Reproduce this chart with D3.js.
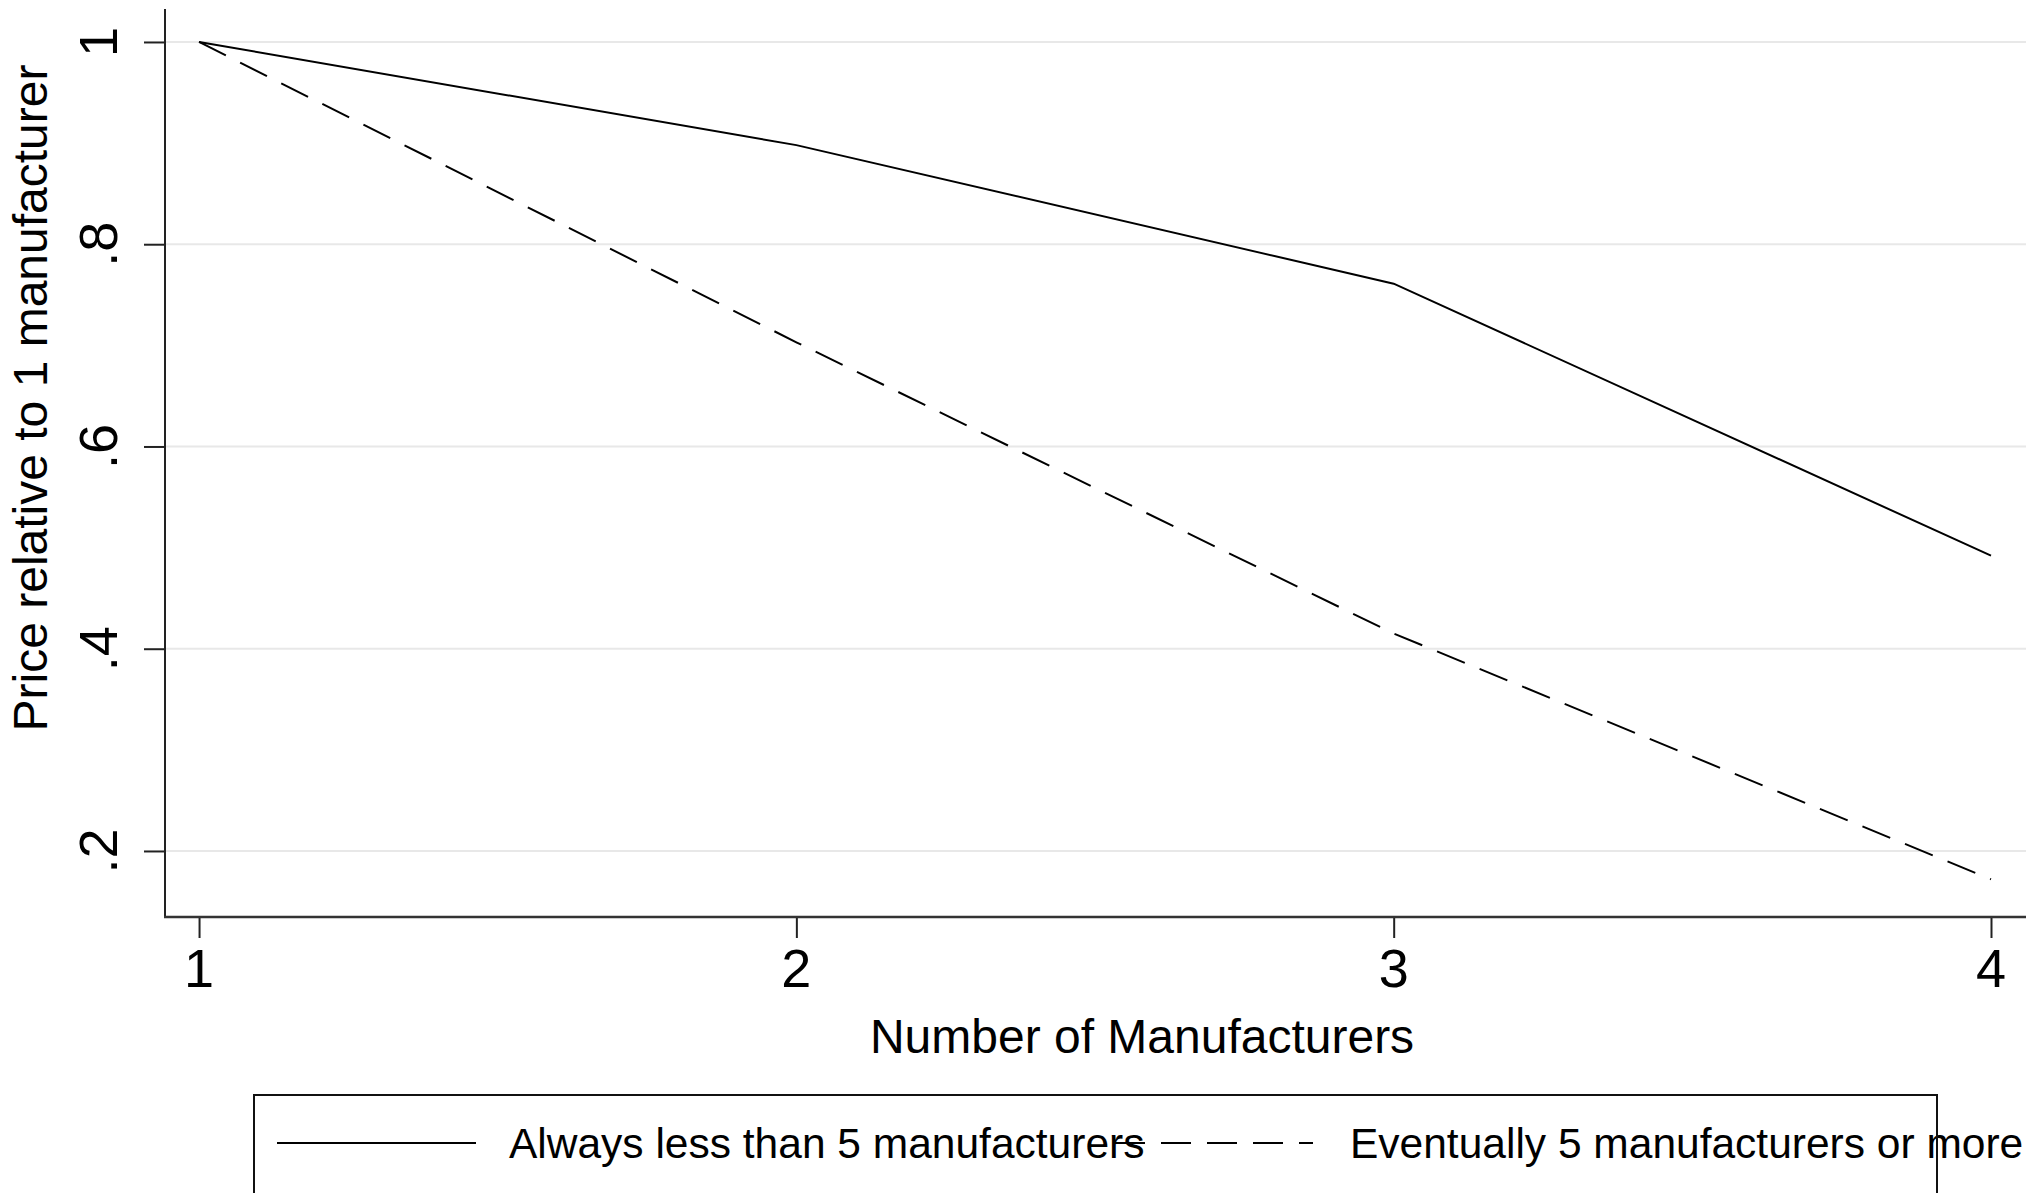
<!DOCTYPE html>
<html>
<head>
<meta charset="utf-8">
<script src="https://cdn.jsdelivr.net/npm/d3@7"></script>
<style>
html, body { margin: 0; padding: 0; background: #fff; }
svg { display: block; }
text { font-family: "Liberation Sans", Arial, sans-serif; fill: #000; }
</style>
</head>
<body>
<script>
// ---- data ----
const manufacturers = [1, 2, 3, 4];
const alwaysLess = [1.0, 0.898, 0.761, 0.492];
const eventuallyMore = [1.0, 0.703, 0.415, 0.172];
const seriesNames = ["Always less than 5 manufacturers", "Eventually 5 manufacturers or more"];
const yTicks = [0.2, 0.4, 0.6, 0.8, 1.0];
const yTickLabels = [".2", ".4", ".6", ".8", "1"];
const xTicks = [1, 2, 3, 4];
const xTitle = "Number of Manufacturers";
const yTitle = "Price relative to 1 manufacturer";

// ---- layout ----
const W = 2042, H = 1193;
const plot = { left: 165, right: 2026, top: 9, bottom: 917 };

const svg = d3.select("body").append("svg").attr("width", W).attr("height", H);

const x = d3.scaleLinear().domain([0.943, 4.0586]).range([plot.left, plot.right]);
const y = d3.scaleLinear().domain([0.1347, 1.0326]).range([plot.bottom, plot.top]);

// gridlines
svg.append("g").selectAll("line").data(yTicks).join("line")
  .attr("x1", plot.left + 1).attr("x2", plot.right)
  .attr("y1", d => y(d)).attr("y2", d => y(d))
  .attr("stroke", "#e8e8e8").attr("stroke-width", 2);

// y axis
const yAxis = d3.axisLeft(y).tickValues(yTicks).tickSize(21).tickPadding(0)
  .tickFormat((d, i) => yTickLabels[i]);
const gy = svg.append("g").attr("transform", `translate(${plot.left},0)`).call(yAxis);
gy.select(".domain").remove();
gy.selectAll(".tick line").attr("stroke", "#222").attr("stroke-width", 2);
gy.selectAll(".tick text").remove();
svg.append("line").attr("x1", plot.left).attr("x2", plot.left)
  .attr("y1", plot.top).attr("y2", plot.bottom + 1).attr("stroke", "#222").attr("stroke-width", 2);
svg.append("g").selectAll("text").data(yTicks).join("text")
  .attr("transform", d => `translate(117,${y(d)}) rotate(-90)`)
  .attr("text-anchor", "middle")
  .style("font-size", "54px")
  .text((d, i) => yTickLabels[i]);

// x axis
const xAxis = d3.axisBottom(x).tickValues(xTicks).tickSize(21).tickFormat(d3.format("d"));
const gx = svg.append("g").attr("transform", `translate(0,${plot.bottom})`).call(xAxis);
gx.select(".domain").remove();
gx.selectAll(".tick line").attr("stroke", "#222").attr("stroke-width", 2);
gx.selectAll(".tick text").remove();
svg.append("line").attr("x1", plot.left - 1).attr("x2", plot.right)
  .attr("y1", plot.bottom).attr("y2", plot.bottom).attr("stroke", "#333").attr("stroke-width", 2.5);
svg.append("g").selectAll("text").data(xTicks).join("text")
  .attr("x", d => x(d)).attr("y", 987)
  .attr("text-anchor", "middle")
  .style("font-size", "54px")
  .text(d => d);

// axis titles
svg.append("text").attr("x", 1142).attr("y", 1053).attr("text-anchor", "middle")
  .style("font-size", "48px").text(xTitle);
svg.append("text").attr("transform", "translate(47,398) rotate(-90)").attr("text-anchor", "middle")
  .style("font-size", "48px").text(yTitle);

// lines
const line = d3.line().x((d, i) => x(manufacturers[i])).y(d => y(d));
svg.append("path").datum(alwaysLess).attr("d", line)
  .attr("fill", "none").attr("stroke", "#000").attr("stroke-width", 2);
svg.append("path").datum(eventuallyMore).attr("d", line)
  .attr("fill", "none").attr("stroke", "#000").attr("stroke-width", 2)
  .attr("stroke-dasharray", "30,16");

// legend
const lg = svg.append("g");
lg.append("rect").attr("x", 254).attr("y", 1095).attr("width", 1937 - 254).attr("height", 200)
  .attr("fill", "#fff").attr("stroke", "#111").attr("stroke-width", 2);
const legendItems = [
  { name: seriesNames[0], x0: 277, x1: 476, tx: 509, dash: null },
  { name: seriesNames[1], x0: 1115, x1: 1313, tx: 1350, dash: "30,16" }
];
legendItems.forEach(it => {
  lg.append("text").attr("x", it.tx).attr("y", 1158).style("font-size", "42.5px").text(it.name);
});
legendItems.forEach(it => {
  const l = lg.append("line").attr("x1", it.x0).attr("x2", it.x1).attr("y1", 1143).attr("y2", 1143)
    .attr("stroke", "#000").attr("stroke-width", 2);
  if (it.dash) l.attr("stroke-dasharray", it.dash);
});
// right border of legend drawn over text, as in reference
lg.append("line").attr("x1", 1937).attr("x2", 1937).attr("y1", 1095).attr("y2", H)
  .attr("stroke", "#111").attr("stroke-width", 2);
</script>
</body>
</html>
